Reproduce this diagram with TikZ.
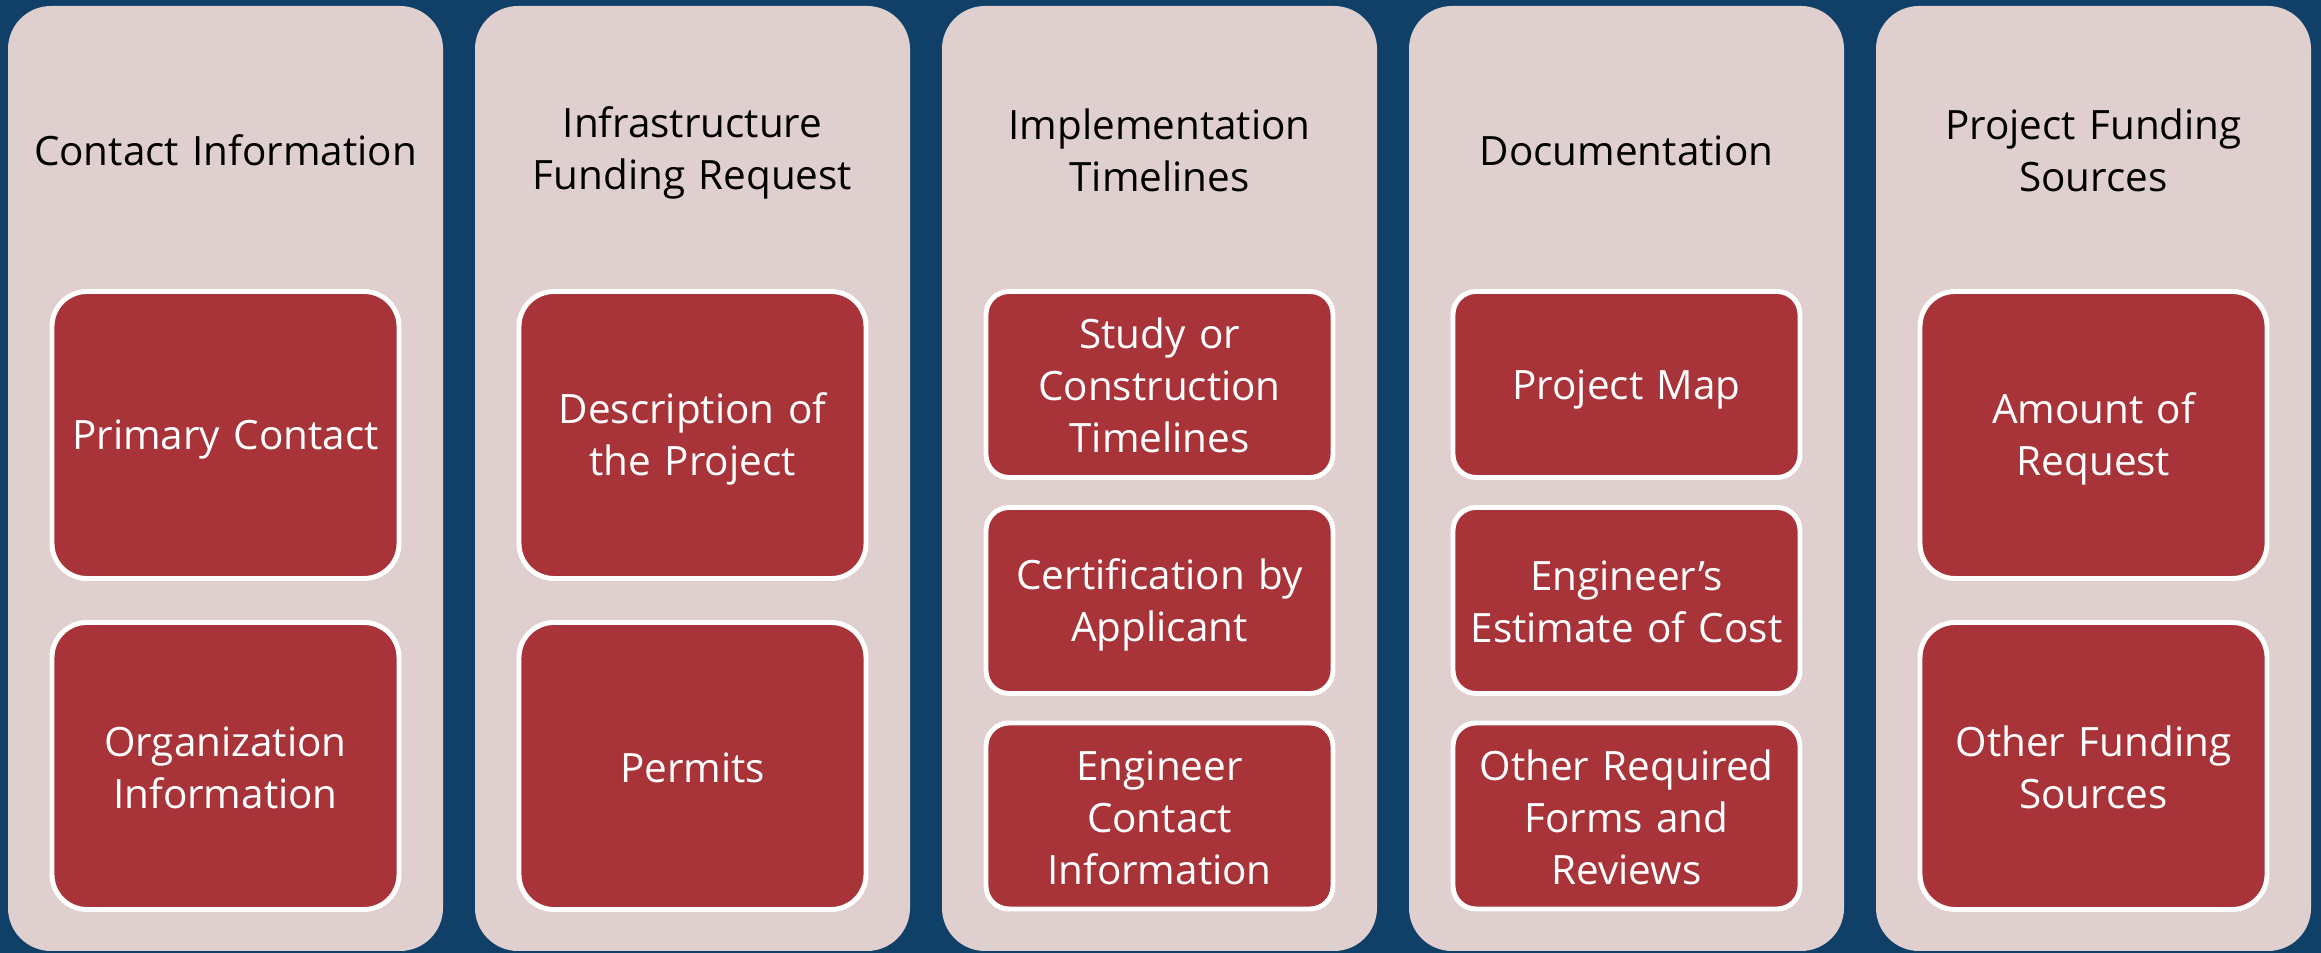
\documentclass[tikz,border=0pt]{standalone}
\usepackage{fontspec}
\setmainfont{Open Sans}
\usepackage{tikz}
\usepackage[rgb]{xcolor}
\definecolor{bg}{HTML}{103F68}
\definecolor{pk}{HTML}{E0CFCF}
\definecolor{rd}{HTML}{A8343A}
\definecolor{tx}{HTML}{000000}
\definecolor{wh}{HTML}{FFFFFF}

\begin{document}
\begin{tikzpicture}[
    col/.style  = {fill=pk, draw=none, rounded corners=0.43cm, minimum width=4.35cm, minimum height=9.45cm, inner sep=0},
    txt/.style  = {align=center, font=\fontsize{11.5}{14.8}\selectfont,
                   execute at begin node=\rule[-2pt]{0pt}{13.2pt}, execute at end node=\rule[-2pt]{0pt}{13.2pt}},
    head/.style = {txt, text width=4.2cm, text=tx},
    big/.style  = {txt, text width=3.2cm, fill=rd, draw=wh, line width=1.4pt, rounded corners=0.35cm, minimum width=3.47cm, minimum height=2.87cm, text=wh},
    small/.style= {txt, text width=3.2cm, fill=rd, draw=wh, line width=1.4pt, rounded corners=0.23cm, minimum width=3.47cm, minimum height=1.86cm, text=wh}
  ]
  \fill[bg] (0,0) rectangle (23.21,9.53);

  % columns
  \node[col] (c1) at (2.255,4.745) {};
  \node[col] (c2) at (6.925,4.745) {};
  \node[col] (c3) at (11.595,4.745) {};
  \node[col] (c4) at (16.265,4.745) {};
  \node[col] (c5) at (20.935,4.745) {};

  % headings
  \node[head] (h1) at (2.255,8.04) {Contact Information};
  \node[head] (h2) at (6.925,8.04) {Infrastructure\\Funding Request};
  \node[head] (h3) at (11.595,8.04) {Implementation\\Timelines};
  \node[head] (h4) at (16.265,8.04) {Documentation};
  \node[head] (h5) at (20.935,8.04) {Project Funding\\Sources};

  % boxes
  \node[big] (b11) at (2.255,5.18) {Primary Contact};
  \node[big] (b12) at (2.255,1.87) {Organization\\Information};
  \node[big] (b21) at (6.925,5.18) {Description of\\the Project};
  \node[big] (b22) at (6.925,1.87) {Permits};
  \node[small] (b31) at (11.595,5.685) {Study or\\Construction\\Timelines};
  \node[small] (b32) at (11.595,3.525) {Certification by\\Applicant};
  \node[small] (b33) at (11.595,1.37) {Engineer\\Contact\\Information};
  \node[small] (b41) at (16.265,5.685) {Project Map};
  \node[small] (b42) at (16.265,3.525) {Engineer’s\\Estimate of Cost};
  \node[small] (b43) at (16.265,1.37) {Other Required\\Forms and\\Reviews};
  \node[big] (b51) at (20.935,5.18) {Amount of\\Request};
  \node[big] (b52) at (20.935,1.87) {Other Funding\\Sources};
\end{tikzpicture}
\end{document}
